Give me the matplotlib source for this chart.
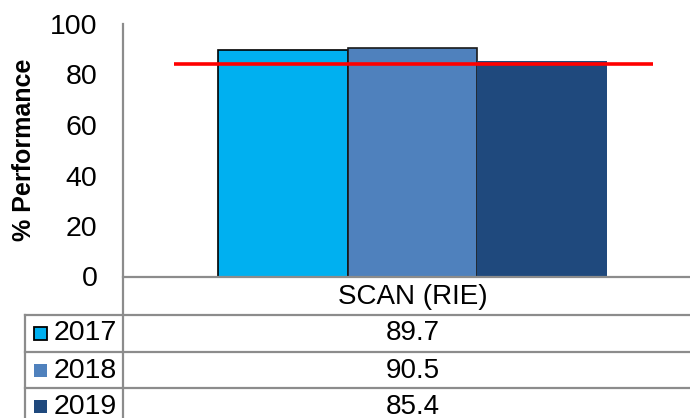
import matplotlib
matplotlib.use("Agg")
import matplotlib.pyplot as plt
from matplotlib.patches import Rectangle
from matplotlib.lines import Line2D
import matplotlib.transforms as mtransforms

categories = ["SCAN (RIE)"]
years = ["2017", "2018", "2019"]
values = [89.7, 90.5, 85.4]
target = 84
yticks = [0, 20, 40, 60, 80, 100]

colors = ["#00B0F0", "#4F81BD", "#1F497D"]
edgecolors = ["black", "#1a1a1a", "none"]
grid_col = "#8c8c8c"

plt.rcParams['font.family'] = ['Liberation Sans', 'DejaVu Sans']
W, H = 690, 418
fig = plt.figure(figsize=(6.9, 4.18), dpi=100)


def fx(x):
    return x / W


def fy(y):
    return 1 - y / H


ax = fig.add_axes([fx(123), fy(276.5), (690 - 123) / W, (276.5 - 24) / H])
bw = 0.224
offs = [-bw, 0, bw]
for i, (v, c, e) in enumerate(zip(values, colors, edgecolors)):
    ax.bar(offs[i], v, width=bw, color=c, edgecolor=e,
           linewidth=1.2 if e != 'none' else 0, zorder=2)
ax.hlines(target, -0.412, 0.415, colors='#FF0000', linewidth=2.6, zorder=3)
ax.set_xlim(-0.5, 0.479)
ax.set_ylim(0, 100)
ax.set_yticks(yticks)
ax.set_yticklabels([str(t) for t in yticks])
ax.tick_params(axis='y', length=0, pad=18.5, labelsize=20.5)
ax.set_xticks([])
for s in ['top', 'right', 'bottom', 'left']:
    ax.spines[s].set_visible(False)
ax.patch.set_alpha(0)

# axis / table lines
lw = 1.6
lines = [
    ((123, 123), (24, 418)),
    ((123, 690), (276.5, 276.5)),
    ((25, 690), (315, 315)),
    ((25, 690), (351.7, 351.7)),
    ((25, 690), (388.3, 388.3)),
    ((25, 25), (315, 418)),
]
for xs, ys in lines:
    fig.add_artist(Line2D([fx(x) for x in xs], [fy(y) for y in ys],
                          color=grid_col, linewidth=lw, zorder=1))

blend = mtransforms.blended_transform_factory(ax.transData, fig.transFigure)

fig.text(0, fy(297), categories[0], transform=blend, ha='center', va='center',
         fontsize=20)

row_centers = [333.5, 370.5, 406.5]
for i, (yr, v) in enumerate(zip(years, values)):
    yc = row_centers[i]
    fig.text(0, fy(yc), f"{v:.1f}", transform=blend, ha='center',
             va='center', fontsize=20)
    fig.text(fx(54), fy(yc), yr, ha='left', va='center', fontsize=20.5)
    ms = 13
    rect = Rectangle((fx(34), fy(yc + ms / 2)), ms / W, ms / H,
                     transform=fig.transFigure, facecolor=colors[i],
                     edgecolor=edgecolors[i] if edgecolors[i] != 'none' else colors[i],
                     linewidth=1.3 if i == 0 else 0)
    fig.add_artist(rect)

fig.text(fx(24), fy(150), "% Performance", rotation=90, ha='center',
         va='center', fontweight='bold', fontsize=18)

fig.savefig("out.png", dpi=100)
